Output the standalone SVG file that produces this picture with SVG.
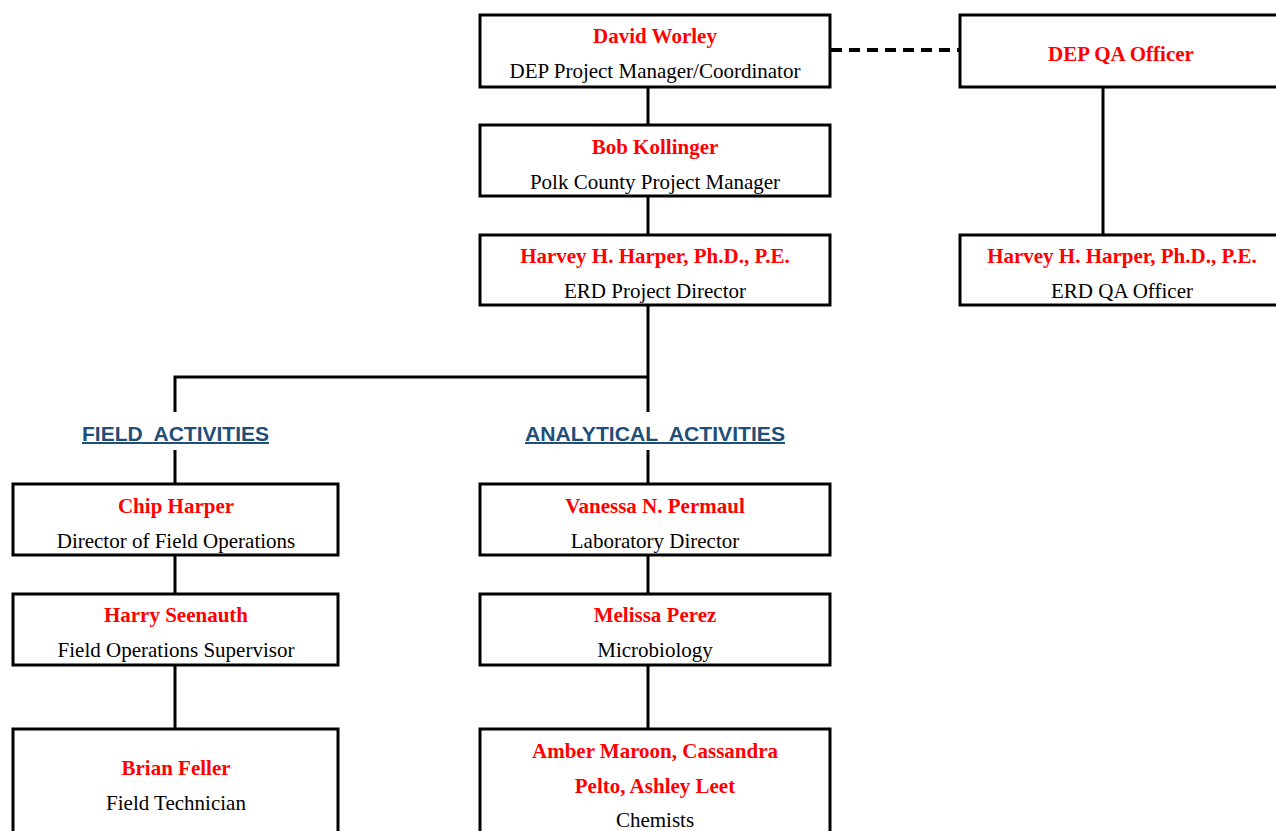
<svg xmlns="http://www.w3.org/2000/svg" width="1276" height="831" viewBox="0 0 1276 831">
<style>
.box{fill:#fff;stroke:#000;stroke-width:3}
.ln{stroke:#000;stroke-width:3;fill:none}
.nm{font-family:"Liberation Serif",serif;font-weight:bold;font-size:21px;fill:#ff0000;text-anchor:middle}
.rl{font-family:"Liberation Serif",serif;font-size:21px;fill:#000;text-anchor:middle}
.hd{font-family:"Liberation Sans",sans-serif;font-weight:bold;font-size:20px;fill:#1f4e79;text-anchor:middle;text-decoration:underline}
</style>
<rect width="1276" height="831" fill="#fff"/>
<g id="connectors">
<path class="ln" d="M648 88V124M648 196V234M648 305V412M175 412V377H648M1103 88V234M175 450V483M648 450V483M175 556V593M648 556V593M175 666V728M648 666V728"/>
<path d="M831 50H959" stroke="#000" stroke-width="4" stroke-dasharray="11,7"/>
</g>
<g id="n-worley"><rect class="box" x="480" y="15" width="350" height="72"/><text class="nm" x="655" y="43">David Worley</text><text class="rl" x="655" y="78">DEP Project Manager/Coordinator</text></g>
<g id="n-depqa"><rect class="box" x="960" y="15" width="330" height="72"/><text class="nm" x="1121" y="61">DEP QA Officer</text></g>
<g id="n-kollinger"><rect class="box" x="480" y="125" width="350" height="71"/><text class="nm" x="655" y="154">Bob Kollinger</text><text class="rl" x="655" y="189">Polk County Project Manager</text></g>
<g id="n-harper"><rect class="box" x="480" y="235" width="350" height="70"/><text class="nm" x="655" y="263">Harvey H. Harper, Ph.D., P.E.</text><text class="rl" x="655" y="298">ERD Project Director</text></g>
<g id="n-erdqa"><rect class="box" x="960" y="235" width="330" height="70"/><text class="nm" x="1122" y="263">Harvey H. Harper, Ph.D., P.E.</text><text class="rl" x="1122" y="298">ERD QA Officer</text></g>
<g id="h-field"><text class="hd" x="175.5" y="441" textLength="187" lengthAdjust="spacingAndGlyphs" xml:space="preserve">FIELD  ACTIVITIES</text></g>
<g id="h-analytical"><text class="hd" x="655" y="441" textLength="260" lengthAdjust="spacingAndGlyphs" xml:space="preserve">ANALYTICAL  ACTIVITIES</text></g>
<g id="n-chip"><rect class="box" x="13" y="484" width="325" height="71"/><text class="nm" x="176" y="513">Chip Harper</text><text class="rl" x="176" y="548">Director of Field Operations</text></g>
<g id="n-vanessa"><rect class="box" x="480" y="484" width="350" height="71"/><text class="nm" x="655" y="513">Vanessa N. Permaul</text><text class="rl" x="655" y="548">Laboratory Director</text></g>
<g id="n-seenauth"><rect class="box" x="13" y="594" width="325" height="71"/><text class="nm" x="176" y="622">Harry Seenauth</text><text class="rl" x="176" y="657">Field Operations Supervisor</text></g>
<g id="n-perez"><rect class="box" x="480" y="594" width="350" height="71"/><text class="nm" x="655" y="622">Melissa Perez</text><text class="rl" x="655" y="657">Microbiology</text></g>
<g id="n-feller"><rect class="box" x="13" y="729" width="325" height="110"/><text class="nm" x="176" y="775">Brian Feller</text><text class="rl" x="176" y="810">Field Technician</text></g>
<g id="n-chemists"><rect class="box" x="480" y="729" width="350" height="110"/><text class="nm" x="655" y="758">Amber Maroon, Cassandra</text><text class="nm" x="655" y="793">Pelto, Ashley Leet</text><text class="rl" x="655" y="827">Chemists</text></g>
</svg>
